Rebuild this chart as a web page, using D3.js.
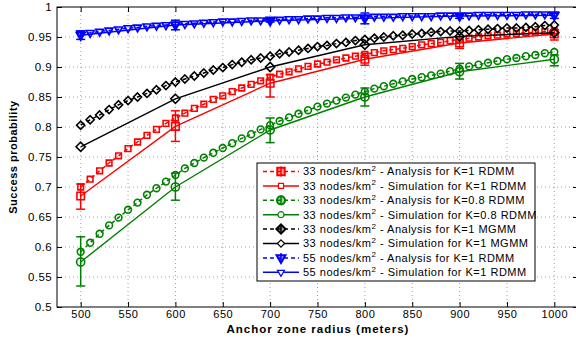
<!DOCTYPE html>
<html>
<head>
<meta charset="utf-8">
<script src="https://cdn.jsdelivr.net/npm/d3@7"></script>
<style>
  body { margin: 0; background: #fff; }
  svg { display: block; font-family: "Liberation Sans", Arial, Helvetica, sans-serif; }
</style>
</head>
<body>
<div id="wrapper"></div>
<script>
// anchor zone radius for the analysis curves (every 10 m) and simulation points (every 100 m)
const analysisRadius = [500, 510, 520, 530, 540, 550, 560, 570, 580, 590,
  600, 610, 620, 630, 640, 650, 660, 670, 680, 690,
  700, 710, 720, 730, 740, 750, 760, 770, 780, 790,
  800, 810, 820, 830, 840, 850, 860, 870, 880, 890,
  900, 910, 920, 930, 940, 950, 960, 970, 980, 990, 1000];
const simRadius = [500, 600, 700, 800, 900, 1000];

const xTicks = [500, 550, 600, 650, 700, 750, 800, 850, 900, 950, 1000];
const yTicks = [0.5, 0.55, 0.6, 0.65, 0.7, 0.75, 0.8, 0.85, 0.9, 0.95, 1];

const redAnalysis = [.700, .713, .727, .740, .752, .764, .775, .786, .796, .806,
  .815, .823, .831, .838, .846, .852, .859, .865, .871, .877,
  .883, .888, .892, .897, .901, .905, .908, .912, .915, .918,
  .921, .924, .927, .929, .931, .934, .937, .939, .941, .944,
  .946, .948, .950, .952, .953, .955, .956, .957, .958, .959, .960];
const redSim = [.685, .801, .873, .913, .940, .955];
const redErrLow = [.663, .776, .850, .903, .931, .945];
const redErrHigh = [.705, .827, .887, .923, .950, .962];

const greenAnalysis = [.592, .607, .622, .636, .649, .662, .674, .687, .698, .709,
  .720, .731, .740, .749, .757, .765, .773, .781, .788, .796,
  .803, .810, .816, .822, .828, .834, .839, .844, .849, .854,
  .859, .864, .868, .872, .876, .880, .883, .886, .889, .893,
  .897, .901, .904, .907, .910, .913, .915, .918, .920, .923, .925];
const greenSim = [.575, .700, .795, .850, .892, .913];
const greenErrLow = [.535, .678, .774, .835, .880, .902];
const greenErrHigh = [.617, .723, .815, .865, .906, .920];

const blackAnalysis = [.803, .812, .820, .829, .837, .844, .850, .856, .862, .869,
  .875, .880, .885, .890, .895, .899, .904, .908, .912, .915,
  .918, .922, .925, .928, .931, .934, .936, .939, .941, .944,
  .946, .948, .950, .952, .953, .955, .956, .958, .959, .960,
  .960, .961, .962, .963, .964, .965, .965, .966, .967, .969, .970];
const blackSim = [.767, .847, .900, .937, .951, .957];

const blueAnalysis = [.956, .957, .959, .961, .963, .965, .966, .968, .969, .970,
  .971, .972, .973, .974, .975, .976, .976, .977, .978, .978,
  .979, .979, .980, .980, .981, .981, .982, .982, .983, .983,
  .983, .984, .984, .984, .985, .985, .985, .985, .986, .986,
  .986, .986, .987, .987, .987, .987, .987, .988, .988, .988, .988];
const blueSim = [.953, .970, .977, .981, .985, .986];
const blueErrLow = [.946, .962, .975, .972, .981, .981];
const blueErrHigh = [.960, .978, .979, .990, .988, .989];

const legendLabels = [
  ["33", " - Analysis for K=1 RDMM"],
  ["33", " - Simulation for K=1 RDMM"],
  ["33", " - Analysis for K=0.8 RDMM"],
  ["33", " - Simulation for K=0.8 RDMM"],
  ["33", " - Analysis for K=1 MGMM"],
  ["33", " - Simulation for K=1 MGMM"],
  ["55", " - Analysis for K=1 RDMM"],
  ["55", " - Simulation for K=1 RDMM"]
];

const series = [
  { color: "#ff0000", symbol: d3.symbolSquare, size: 32, bigSize: 56, rot: 0,
    analysis: redAnalysis, sim: redSim, lo: redErrLow, hi: redErrHigh },
  { color: "#008000", symbol: d3.symbolCircle, size: 36, bigSize: 52, rot: 0,
    analysis: greenAnalysis, sim: greenSim, lo: greenErrLow, hi: greenErrHigh },
  { color: "#000000", symbol: d3.symbolDiamond2, size: 42, bigSize: 54, rot: 0,
    analysis: blackAnalysis, sim: blackSim, lo: null, hi: null },
  { color: "#0000ff", symbol: d3.symbolTriangle2, size: 44, bigSize: 56, rot: 180,
    analysis: blueAnalysis, sim: blueSim, lo: blueErrLow, hi: blueErrHigh }
];

const width = 576, height = 340;
const plotLeft = 57, plotTop = 7, plotRight = 578, plotBottom = 307;

const x = d3.scaleLinear().domain([475, 1025]).range([plotLeft, plotRight]);
const y = d3.scaleLinear().domain([0.5, 1]).range([plotBottom, plotTop]);

const svg = d3.select("#wrapper").append("svg")
  .attr("width", width)
  .attr("height", height);

// dotted grid
const grid = svg.append("g")
  .attr("stroke", "#8a8a8a")
  .attr("stroke-width", 0.8)
  .attr("stroke-dasharray", "1,3");
grid.selectAll("line.vx")
  .data(xTicks)
  .join("line")
  .attr("class", "vx")
  .attr("x1", d => x(d)).attr("x2", d => x(d))
  .attr("y1", plotTop).attr("y2", plotBottom);
grid.selectAll("line.hy")
  .data(yTicks.slice(1, -1))
  .join("line")
  .attr("class", "hy")
  .attr("x1", plotLeft).attr("x2", plotRight)
  .attr("y1", d => y(d)).attr("y2", d => y(d));

// axes, ticks pointing inward
svg.append("g")
  .attr("transform", `translate(0,${plotBottom})`)
  .call(d3.axisBottom(x).tickValues(xTicks).tickFormat(d => String(d)).tickSize(-5).tickPadding(3).tickSizeOuter(0))
  .call(g => g.select(".domain").remove())
  .call(g => g.selectAll("text").attr("font-size", "11px").attr("letter-spacing", "0.5px").attr("fill", "#000"));

svg.append("g")
  .attr("transform", `translate(${plotLeft},0)`)
  .call(d3.axisLeft(y).tickValues(yTicks).tickFormat(d => String(d)).tickSize(-5).tickPadding(5).tickSizeOuter(0))
  .call(g => g.select(".domain").remove())
  .call(g => g.selectAll("text").attr("font-size", "11.5px").attr("letter-spacing", "0.4px").attr("fill", "#000"));

svg.append("g")
  .attr("transform", `translate(0,${plotTop})`)
  .call(d3.axisTop(x).tickValues(xTicks).tickFormat("").tickSize(-5).tickSizeOuter(0))
  .call(g => g.select(".domain").remove());

svg.append("g")
  .attr("transform", `translate(${plotRight},0)`)
  .call(d3.axisRight(y).tickValues(yTicks).tickFormat("").tickSize(-5).tickSizeOuter(0))
  .call(g => g.select(".domain").remove());

svg.append("rect")
  .attr("x", plotLeft).attr("y", plotTop)
  .attr("width", plotRight - plotLeft).attr("height", plotBottom - plotTop)
  .attr("fill", "none").attr("stroke", "#000").attr("stroke-width", 1);

// data
const lineA = d3.line().x((d, i) => x(analysisRadius[i])).y(d => y(d));
const lineS = d3.line().x((d, i) => x(simRadius[i])).y(d => y(d));

series.forEach(s => {
  const g = svg.append("g");

  g.append("path")
    .attr("d", lineA(s.analysis))
    .attr("fill", "none")
    .attr("stroke", s.color)
    .attr("stroke-width", 1.5)
    .attr("stroke-dasharray", "4,3");

  g.selectAll("path.ma")
    .data(s.analysis)
    .join("path")
    .attr("class", "ma")
    .attr("d", d3.symbol().type(s.symbol).size(s.size)())
    .attr("transform", (d, i) => `translate(${x(analysisRadius[i])},${y(d)}) rotate(${s.rot})`)
    .attr("fill", "none")
    .attr("stroke", s.color)
    .attr("stroke-width", 1.6);

  g.append("path")
    .attr("d", lineS(s.sim))
    .attr("fill", "none")
    .attr("stroke", s.color)
    .attr("stroke-width", 1.4);

  if (s.lo) {
    const eb = g.append("g")
      .attr("stroke", s.color)
      .attr("stroke-width", 1.5);
    simRadius.forEach((r, i) => {
      const cx = x(r);
      eb.append("line").attr("x1", cx).attr("x2", cx).attr("y1", y(s.lo[i])).attr("y2", y(s.hi[i]));
      eb.append("line").attr("x1", cx - 4.5).attr("x2", cx + 4.5).attr("y1", y(s.lo[i])).attr("y2", y(s.lo[i]));
      eb.append("line").attr("x1", cx - 4.5).attr("x2", cx + 4.5).attr("y1", y(s.hi[i])).attr("y2", y(s.hi[i]));
    });
  }

  g.selectAll("path.ms")
    .data(s.sim)
    .join("path")
    .attr("class", "ms")
    .attr("d", d3.symbol().type(s.symbol).size(s.bigSize)())
    .attr("transform", (d, i) => `translate(${x(simRadius[i])},${y(d)}) rotate(${s.rot})`)
    .attr("fill", "none")
    .attr("stroke", s.color)
    .attr("stroke-width", 1.6);
});

// legend
const lg = svg.append("g");
lg.append("rect")
  .attr("x", 257).attr("y", 163)
  .attr("width", 278).attr("height", 118)
  .attr("fill", "#fff").attr("stroke", "#000").attr("stroke-width", 1);

legendLabels.forEach((lab, i) => {
  const s = series[Math.floor(i / 2)];
  const isAnalysis = i % 2 === 0;
  const ly = 171.5 + i * 14.4;

  lg.append("line")
    .attr("x1", 263).attr("x2", 299)
    .attr("y1", ly).attr("y2", ly)
    .attr("stroke", s.color)
    .attr("stroke-width", 1.5)
    .attr("stroke-dasharray", isAnalysis ? "4,3" : null);

  if (isAnalysis) {
    lg.append("line")
      .attr("x1", 281).attr("x2", 281)
      .attr("y1", ly - 5).attr("y2", ly + 5)
      .attr("stroke", s.color).attr("stroke-width", 1.5);
  }

  lg.append("path")
    .attr("d", d3.symbol().type(s.symbol).size(isAnalysis ? s.bigSize : s.size * 0.8)())
    .attr("transform", `translate(281,${ly}) rotate(${s.rot})`)
    .attr("fill", isAnalysis ? s.color : "#fff")
    .attr("fill-opacity", isAnalysis ? 0.35 : 1)
    .attr("stroke", s.color)
    .attr("stroke-width", isAnalysis ? 2 : 1.2);

  const t = lg.append("text")
    .attr("x", 303).attr("y", ly)
    .attr("dy", "0.36em")
    .attr("font-size", "11px")
    .attr("letter-spacing", "0.5px");
  t.append("tspan").text(lab[0] + " nodes/km");
  t.append("tspan").attr("dy", "-4.5").attr("font-size", "8px").text("2");
  t.append("tspan").attr("dy", "4.5").text(lab[1]);
});

// axis titles
svg.append("text")
  .attr("x", 318).attr("y", 333)
  .attr("text-anchor", "middle")
  .attr("font-weight", "bold")
  .attr("font-size", "11.5px")
  .attr("letter-spacing", "1px")
  .text("Anchor zone radius (meters)");

svg.append("text")
  .attr("transform", "translate(17,157) rotate(-90)")
  .attr("text-anchor", "middle")
  .attr("font-weight", "bold")
  .attr("font-size", "11px")
  .attr("letter-spacing", "0.5px")
  .text("Success probability");
</script>
</body>
</html>
